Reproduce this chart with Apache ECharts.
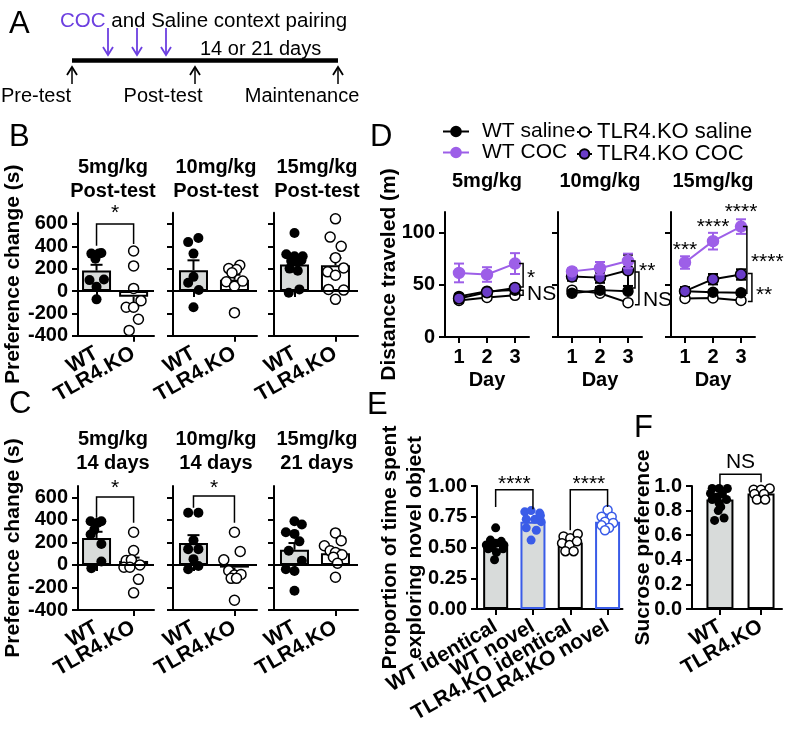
<!DOCTYPE html>
<html><head><meta charset="utf-8">
<script src="https://cdn.jsdelivr.net/npm/echarts@6/dist/echarts.min.js"></script>
<style>html,body{margin:0;padding:0;background:#fff}#c{width:796px;height:731px}</style>
</head><body><div id="c"></div>
<script>
// ================= DATA =================
const genotypes = ['WT', 'TLR4.KO'];
const prefTicks = [-400, -200, 0, 200, 400, 600];

// Panel B: preference change (s) at Post-test
const bTitles = ['5mg/kg\nPost-test', '10mg/kg\nPost-test', '15mg/kg\nPost-test'];
const bMeans = [[183, -50], [187, 101], [237, 231]];
const bSem = [[52, 80], [88, 45], [50, 65]];
// individual animals: [jitter (category units), value]
const bWTDots = [
  [[-0.14,335],[-0.03,290],[0.06,335],[0.13,340],[-0.19,98],[0.2,104],[0,38],[0,-74]],
  [[-0.13,438],[0.12,474],[0,335],[0,127],[-0.13,74],[0.13,9],[0,-145]],
  [[0,519],[-0.2,329],[0,311],[0.2,311],[-0.08,270],[0.08,261],[-0.12,201],[0.08,181],[-0.14,-15],[0.12,15],[0.17,276]]
];
const bKODots = [
  [[0,358],[0,225],[0,24],[0.2,-86],[-0.2,-145],[0,-145],[0.13,-252],[-0.12,-352]],
  [[-0.14,201],[0.13,231],[0.05,193],[-0.06,163],[-0.2,83],[0,44],[0.2,89],[0,-193]],
  [[0,646],[-0.13,483],[0.14,400],[0,299],[0.2,207],[-0.19,172],[0,142],[-0.17,15],[0.2,9],[0,-74]]
];
const bSig = [[{x1:0,x2:1,top:600,l:405,r:420,text:'*',ty:743}], [], []];

// Panel C: preference change (s) at 14 / 21 days
const cTitles = ['5mg/kg\n14 days', '10mg/kg\n14 days', '15mg/kg\n21 days'];
const cMeans = [[239, 35], [194, -24], [134, 104]];
const cSem = [[55, 30], [70, 60], [60, 30]];
const cWTDots = [
  [[-0.16,388],[0.03,373],[0.13,388],[-0.06,313],[-0.16,269],[0.13,185],[0.13,30],[-0.14,-30]],
  [[-0.13,463],[0.12,463],[0,218],[-0.13,140],[0.12,140],[0,51],[-0.13,-39],[0.12,-9]],
  [[0,388],[0.18,358],[-0.21,290],[0,275],[0.12,209],[-0.14,125],[0.18,36],[-0.21,-39],[0,-54],[0,-230]]
];
const cKODots = [
  [[0,290],[0,128],[-0.2,39],[-0.06,45],[-0.26,-21],[-0.1,-21],[0.17,0],[0.13,-128],[0,-248]],
  [[0,290],[0.14,119],[-0.26,45],[-0.14,-51],[0,-90],[0.16,-84],[-0.08,-119],[0.05,-119],[0,-313]],
  [[0,284],[0.14,215],[-0.27,170],[-0.13,125],[0,110],[0.16,90],[-0.05,69],[0.05,15],[0,-110]]
];
const cSig = [[{x1:0,x2:1,top:603,l:418,r:373,text:'*',ty:727}], [{x1:0,x2:1,top:612,l:507,r:373,text:'*',ty:727}], []];

// Panel D: distance traveled (m) over days
const days = [1, 2, 3];
const dTitles = ['5mg/kg', '10mg/kg', '15mg/kg'];
const dTicks = [0, 50, 100];
const dWTsal  = [[39,44,45],[42,45,44],[44,43,42.5]];
const dWTsalE = [[2,2,3],[2,3,2],[4,2,2]];
const dKOsal  = [[35,38,40],[45,42,33],[37,37.5,35]];
const dKOsalE = [[2,2,2],[2,2,2],[2,2,2]];
const dWTcoc  = [[61.5,60,70.5],[63,66,73],[71.5,92,106]];
const dWTcocE = [[9,7,10],[3,6,7],[6,8,7]];
const dKOcoc  = [[37,43,47],[58,57,64],[44,55.5,60]];
const dKOcocE = [[2,2,3],[4,5,15],[3,5,5]];
const dBrackets = [
  [{x:3.29,top:70.5,bot:48,text:'*',ty:61},{x:3.29,top:45,bot:40,text:'NS',ty:41}],
  [{x:3.25,top:73,bot:47,text:'**',ty:68},{x:3.39,top:62.5,bot:31,text:'NS',ty:35}],
  [{x:3.21,top:106,bot:42,text:'****',ty:77},{x:3.39,top:61,bot:34,text:'**',ty:45}]
];
const dStars = [[], [], [{x:1,y:88,text:'***'},{x:2,y:110,text:'****'},{x:3,y:125,text:'****'}]];

// Panel E: novel object recognition
const eCats = ['WT identical', 'WT novel', 'TLR4.KO identical', 'TLR4.KO novel'];
const eTicks = [0, 0.25, 0.5, 0.75, 1];
const eMeans = [0.52, 0.71, 0.54, 0.71];
const eSem = [0.02, 0.02, 0.015, 0.02];
const eDots = [
  [[0,0.66],[-0.14,0.56],[0.15,0.55],[-0.25,0.52],[0,0.535],[0.2,0.49],[-0.2,0.49],[0.02,0.46],[-0.03,0.40],[0.22,0.52],[-0.1,0.5]],
  [[-0.22,0.79],[-0.05,0.8],[0.18,0.78],[-0.18,0.73],[0.05,0.73],[0.22,0.71],[-0.18,0.66],[0.09,0.64],[-0.05,0.56],[0.2,0.76]],
  [[-0.18,0.59],[0,0.575],[0.2,0.61],[-0.22,0.535],[-0.02,0.52],[0.18,0.55],[-0.13,0.47],[0.09,0.47]],
  [[0,0.805],[-0.16,0.75],[0.11,0.75],[-0.07,0.71],[0.15,0.70],[-0.16,0.68],[0.04,0.66],[-0.07,0.64]]
];
const eSig = [{x1:0,x2:1,top:0.97,l:0.83,r:0.81,text:'****',ty:1.055},{x1:2,x2:3,top:0.97,l:0.64,r:0.83,text:'****',ty:1.055}];

// Panel F: sucrose preference
const fTicks = [0, 0.2, 0.4, 0.6, 0.8, 1.0];
const fMeans = [0.89, 0.94];
const fSem = [0.02, 0.01];
const fDots = [
  [[-0.19,0.98],[-0.02,0.98],[0.18,0.98],[-0.23,0.94],[0.06,0.935],[-0.07,0.91],[-0.19,0.89],[0.16,0.89],[-0.02,0.86],[0.02,0.83],[-0.04,0.80],[-0.13,0.72],[0.1,0.74]],
  [[-0.18,0.97],[0,0.97],[0.21,0.98],[-0.16,0.935],[0.07,0.935],[-0.1,0.89],[0.1,0.89]]
];
const fSig = [{x1:0,x2:1,top:1.095,l:0.995,r:1.03,text:'NS',ty:1.19}];

// ================= STYLE / LAYOUT =================
const FONT = '"Liberation Sans", Arial, Helvetica, sans-serif';
const BLACK = '#000';
const GRAY = '#d8dbda';
const PURPLE = '#9d5fe8';
const KOCOC = '#6a3cc8';
const BLUE = '#3a5ce8';
const ARROW = '#6c3fe0';

const grids = [], xAxes = [], yAxes = [], series = [], titles = [];

function lineAxis() { return {show: true, onZero: false, lineStyle: {color: BLACK, width: 2}}; }
function tickAxis(vals) { return {show: true, length: 6, customValues: vals, lineStyle: {color: BLACK, width: 2}}; }

function makeY(gi, min, max, ticks, showLabels, name, nameGap, fmt) {
  return {
    type: 'value', gridIndex: gi, min: min, max: max,
    axisLine: lineAxis(), axisTick: tickAxis(ticks),
    axisLabel: {show: showLabels, customValues: ticks, margin: 10, color: BLACK, fontFamily: FONT,
      fontWeight: 'bold', fontSize: 20, showMinLabel: true, showMaxLabel: true, hideOverlap: false,
      formatter: fmt || (v => String(v))},
    splitLine: {show: false},
    name: name || '', nameLocation: 'middle', nameGap: nameGap || 40, nameMoveOverlap: false,
    nameTextStyle: {color: BLACK, fontFamily: FONT, fontWeight: 'bold', fontSize: 21, lineHeight: 25}
  };
}

function errOne(params, api) {
  const x = api.value(0), m = api.value(1), s = api.value(2), dir = api.value(3);
  const p0 = api.coord([x, m]), p1 = api.coord([x, m + dir * s]);
  const c = api.visual('color');
  return {type: 'group', children: [
    {type: 'line', shape: {x1: p0[0], y1: p0[1], x2: p1[0], y2: p1[1]}, style: {stroke: c, lineWidth: 2}},
    {type: 'line', shape: {x1: p1[0] - 6, y1: p1[1], x2: p1[0] + 6, y2: p1[1]}, style: {stroke: c, lineWidth: 2}}
  ]};
}
function errBoth(params, api) {
  const x = api.value(0), m = api.value(1), s = api.value(2);
  const a = api.coord([x, m - s]), b = api.coord([x, m + s]);
  const c = api.visual('color');
  return {type: 'group', children: [
    {type: 'line', shape: {x1: a[0], y1: a[1], x2: b[0], y2: b[1]}, style: {stroke: c, lineWidth: 2}},
    {type: 'line', shape: {x1: a[0] - 5, y1: a[1], x2: a[0] + 5, y2: a[1]}, style: {stroke: c, lineWidth: 2}},
    {type: 'line', shape: {x1: b[0] - 5, y1: b[1], x2: b[0] + 5, y2: b[1]}, style: {stroke: c, lineWidth: 2}}
  ]};
}
function starShift(t) { return t.indexOf('*') >= 0 ? 5 : 0; }

function sigSeries(xi, yi, list) {
  return {type: 'custom', xAxisIndex: xi, yAxisIndex: yi, z: 6, silent: true,
    data: list.map(s => [s.x1, s.x2, s.top, s.l, s.r, s.ty]),
    renderItem: (p, api) => {
      const s = list[p.dataIndex];
      const a = api.coord([s.x1, s.l]), b = api.coord([s.x1, s.top]), c = api.coord([s.x2, s.top]), d = api.coord([s.x2, s.r]);
      const t = api.coord([(s.x1 + s.x2) / 2, s.ty]);
      return {type: 'group', children: [
        {type: 'polyline', shape: {points: [a, b, c, d]}, style: {stroke: BLACK, lineWidth: 1.5, fill: 'none'}},
        {type: 'text', style: {text: s.text, x: t[0], y: t[1] + starShift(s.text), align: 'center', verticalAlign: 'middle',
          fontSize: 21, fontFamily: FONT, fill: BLACK}}
      ]};
    }};
}

function barPanel(o) {
  grids.push({left: o.left, top: o.top, width: o.width, height: o.height});
  const gi = grids.length - 1;
  // main x axis: the line only
  xAxes.push({type: 'value', gridIndex: gi, min: o.xMin, max: o.xMax, position: 'bottom',
    axisLine: lineAxis(), axisTick: {show: false}, axisLabel: {show: false}, splitLine: {show: false}});
  const xi = xAxes.length - 1;
  // one labelled tick axis per group so that every rotated label is kept
  o.cats.forEach((c, i) => {
    xAxes.push({type: 'value', gridIndex: gi, min: o.xMin, max: o.xMax, position: 'bottom',
      axisLine: {show: false}, axisTick: tickAxis([i]),
      axisLabel: {show: true, customValues: [i], rotate: 30, margin: 16, color: BLACK, fontFamily: FONT,
        fontWeight: 'bold', fontSize: 21, showMinLabel: true, showMaxLabel: true, formatter: () => c},
      splitLine: {show: false}});
  });
  yAxes.push(makeY(gi, o.yMin, o.yMax, o.yTicks, o.showY, o.yName, o.yNameGap, o.fmt));
  const yi = yAxes.length - 1;
  const bar = {type: 'bar', xAxisIndex: xi, yAxisIndex: yi, barWidth: o.barWidth, z: 2, silent: true,
    data: o.means.map((m, i) => ({value: [i, m], itemStyle: Object.assign({borderWidth: 2}, o.barStyles[i])}))};
  if (o.zeroLine) {
    bar.markLine = {silent: true, symbol: ['none', 'none'], label: {show: false},
      lineStyle: {color: BLACK, width: 2, type: 'solid'}, data: [{yAxis: 0}], animation: false};
  }
  series.push(bar);
  series.push({type: 'custom', xAxisIndex: xi, yAxisIndex: yi, z: 3, silent: true, renderItem: errOne,
    data: o.means.map((m, i) => ({value: [i, m, o.sems[i], m >= 0 ? 1 : -1], itemStyle: {color: o.errColors[i]}}))});
  o.dots.forEach((arr, i) => {
    series.push({type: 'scatter', xAxisIndex: xi, yAxisIndex: yi, z: 4, silent: true, symbolSize: o.dotSize,
      itemStyle: Object.assign({opacity: 1}, o.dotStyles[i]), data: arr.map(d => [i + d[0], d[1]])});
  });
  if (o.sig && o.sig.length) series.push(sigSeries(xi, yi, o.sig));
}

const wtBar = {color: GRAY, borderColor: BLACK};
const koBar = {color: '#fff', borderColor: BLACK};
const wtDot = {color: BLACK};
const koDot = {color: '#fff', borderColor: BLACK, borderWidth: 1.5};

const bcLefts = [70, 173, 274];
function prefPanels(tit, means, sems, wt, ko, sig, top, height, titleTop) {
  for (let k = 0; k < 3; k++) {
    barPanel({left: bcLefts[k], top: top, width: 84, height: height, xMin: -0.5, xMax: 1.55,
      yMin: -400, yMax: 700, yTicks: prefTicks, showY: k === 0, yName: k === 0 ? 'Preference change (s)' : '', yNameGap: 52,
      cats: genotypes, means: means[k], sems: sems[k], dots: [wt[k], ko[k]], barStyles: [wtBar, koBar],
      dotStyles: [wtDot, koDot], errColors: [BLACK, BLACK], barWidth: 29, dotSize: 10, zeroLine: true, sig: sig[k]});
    titles.push({text: tit[k], left: bcLefts[k] + 43, top: titleTop, textAlign: 'center', padding: 0,
      textStyle: {fontSize: 20, fontWeight: 'bold', fontFamily: FONT, color: BLACK, lineHeight: 24}});
  }
}
prefPanels(bTitles, bMeans, bSem, bWTDots, bKODots, bSig, 212.8, 123, 155);
prefPanels(cTitles, cMeans, cSem, cWTDots, cKODots, cSig, 486, 124, 427);

// Panel D
const dLefts = [445, 558, 671];
for (let k = 0; k < 3; k++) {
  grids.push({left: dLefts[k], top: 212, width: 84, height: 125});
  const gi = grids.length - 1;
  xAxes.push({type: 'value', gridIndex: gi, min: 0.5, max: 3.5, axisLine: lineAxis(), axisTick: tickAxis(days),
    axisLabel: {show: true, customValues: days, margin: 10, color: BLACK, fontFamily: FONT, fontWeight: 'bold', fontSize: 20,
      showMinLabel: true, showMaxLabel: true},
    splitLine: {show: false}, name: 'Day', nameLocation: 'middle', nameGap: 33,
    nameTextStyle: {color: BLACK, fontFamily: FONT, fontWeight: 'bold', fontSize: 20}});
  const xi = xAxes.length - 1;
  yAxes.push(makeY(gi, 0, 120, dTicks, k === 0, k === 0 ? 'Distance traveled (m)' : '', 43));
  const yi = yAxes.length - 1;
  const groups = [
    {name: 'TLR4.KO saline', v: dKOsal[k], e: dKOsalE[k], line: BLACK, fill: '#fff', size: 10},
    {name: 'WT saline', v: dWTsal[k], e: dWTsalE[k], line: BLACK, fill: BLACK, size: 10},
    {name: 'TLR4.KO COC', v: dKOcoc[k], e: dKOcocE[k], line: BLACK, fill: KOCOC, size: 11},
    {name: 'WT COC', v: dWTcoc[k], e: dWTcocE[k], line: PURPLE, fill: PURPLE, size: 11}
  ];
  groups.forEach((g, gi2) => {
    series.push({type: 'custom', xAxisIndex: xi, yAxisIndex: yi, z: 3 + gi2 * 2, silent: true, renderItem: errBoth,
      itemStyle: {color: g.line}, data: days.map((d, i) => [d, g.v[i], g.e[i]])});
    series.push({type: 'line', name: g.name, xAxisIndex: xi, yAxisIndex: yi, z: 4 + gi2 * 2, silent: true,
      data: days.map((d, i) => [d, g.v[i]]), symbol: 'circle', symbolSize: g.size, showSymbol: true,
      lineStyle: {color: g.line, width: 2}, itemStyle: {color: g.fill, borderColor: g.line, borderWidth: 1.5}});
  });
  const br = dBrackets[k];
  series.push({type: 'custom', xAxisIndex: xi, yAxisIndex: yi, z: 20, silent: true,
    data: br.map(s => [s.x, s.top, s.bot, s.ty]),
    renderItem: (p, api) => {
      const s = br[p.dataIndex];
      const a = api.coord([s.x, s.top]), b = api.coord([s.x, s.bot]), t = api.coord([s.x, s.ty]);
      return {type: 'group', children: [
        {type: 'polyline', shape: {points: [[a[0] - 4, a[1]], a, b, [b[0] - 4, b[1]]]}, style: {stroke: BLACK, lineWidth: 1.5, fill: 'none'}},
        {type: 'text', style: {text: s.text, x: t[0] + 4, y: t[1] + starShift(s.text), align: 'left', verticalAlign: 'middle',
          fontSize: 21, fontFamily: FONT, fill: BLACK}}
      ]};
    }});
  const st = dStars[k];
  if (st.length) {
    series.push({type: 'custom', xAxisIndex: xi, yAxisIndex: yi, z: 20, silent: true,
      data: st.map(s => [s.x, s.y]),
      renderItem: (p, api) => {
        const s = st[p.dataIndex];
        const t = api.coord([s.x, s.y]);
        return {type: 'text', style: {text: s.text, x: t[0], y: t[1] + 5, align: 'center', verticalAlign: 'middle',
          fontSize: 21, fontFamily: FONT, fill: BLACK}};
      }});
  }
  titles.push({text: dTitles[k], left: dLefts[k] + 42, top: 171, textAlign: 'center', padding: 0,
    textStyle: {fontSize: 20, fontWeight: 'bold', fontFamily: FONT, color: BLACK}});
}

// Panel E
barPanel({left: 477, top: 486, width: 145.5, height: 123, xMin: -0.5, xMax: 3.4,
  yMin: 0, yMax: 1, yTicks: eTicks, showY: true, yName: 'Proportion of time spent\nexploring novel object', yNameGap: 49,
  fmt: v => v.toFixed(2),
  cats: eCats, means: eMeans, sems: eSem, dots: eDots,
  barStyles: [{color: GRAY, borderColor: BLACK}, {color: GRAY, borderColor: BLUE}, {color: '#fff', borderColor: BLACK}, {color: '#fff', borderColor: BLUE}],
  dotStyles: [{color: BLACK}, {color: BLUE}, {color: '#fff', borderColor: BLACK, borderWidth: 1.5}, {color: '#fff', borderColor: BLUE, borderWidth: 1.5}],
  errColors: [BLACK, BLUE, BLACK, BLUE], barWidth: 25, dotSize: 9, zeroLine: false, sig: eSig});

// Panel F
barPanel({left: 692, top: 486, width: 90, height: 123, xMin: -0.68, xMax: 1.51,
  yMin: 0, yMax: 1, yTicks: fTicks, showY: true, yName: 'Sucrose preference', yNameGap: 36,
  fmt: v => v.toFixed(1),
  cats: genotypes, means: fMeans, sems: fSem, dots: fDots, barStyles: [wtBar, koBar], dotStyles: [wtDot, koDot],
  errColors: [BLACK, BLACK], barWidth: 27, dotSize: 9, zeroLine: false, sig: fSig});

// Panel letters
[['A', 9, 9], ['B', 9, 122], ['C', 9, 389], ['D', 370, 122], ['E', 367, 390], ['F', 634, 413]].forEach(L => {
  titles.push({text: L[0], left: L[1], top: L[2], padding: 0,
    textStyle: {fontSize: 31, fontWeight: 'normal', fontFamily: FONT, color: BLACK}});
});

// Panel A schematic (timeline drawing)
const txt = (s, x, y, align, extra) => ({type: 'text', x: x, y: y, silent: true,
  style: Object.assign({text: s, fontSize: 20, fontFamily: FONT, fill: BLACK, align: align, verticalAlign: 'middle'}, extra || {})});
const seg = (x1, y1, x2, y2, c, w) => ({type: 'line', silent: true, shape: {x1: x1, y1: y1, x2: x2, y2: y2}, style: {stroke: c, lineWidth: w}});
const head = (x, y, dir, c) => ({type: 'polyline', silent: true, shape: {points: [[x - 5, y - dir * 8], [x, y], [x + 5, y - dir * 8]]}, style: {stroke: c, lineWidth: 1.8, fill: 'none'}});
const graphicEls = [
  txt('{p|COC} and Saline context pairing', 60, 21, 'left', {fontSize: 20.5, rich: {p: {fill: ARROW, fontSize: 20.5, fontFamily: FONT}}}),
  txt('14 or 21 days', 200, 49, 'left'),
  seg(72, 60.5, 338, 60.5, BLACK, 4.5),
  txt('Pre-test', 36, 96, 'center'),
  txt('Post-test', 163, 96, 'center'),
  txt('Maintenance', 302, 96, 'center')
];
[108, 137, 166].forEach(x => { graphicEls.push(seg(x, 28, x, 55, ARROW, 1.8)); graphicEls.push(head(x, 55, 1, ARROW)); });
[72, 195, 338].forEach(x => { graphicEls.push(seg(x, 84, x, 67, BLACK, 1.5)); graphicEls.push(head(x, 67, -1, BLACK)); });

const chart = echarts.init(document.getElementById('c'), null, {renderer: 'canvas'});
chart.setOption({
  animation: false,
  backgroundColor: '#fff',
  title: titles,
  legend: [
    {left: 442, top: 121, orient: 'vertical', itemGap: 0, itemWidth: 26, itemHeight: 12, padding: 0, selectedMode: false,
      data: ['WT saline', 'WT COC'], textStyle: {fontSize: 21, fontFamily: FONT, color: BLACK, padding: [0, 0, 0, 8]}},
    {left: 576, top: 121, orient: 'vertical', itemGap: 0, itemWidth: 15, itemHeight: 12, padding: 0, selectedMode: false,
      data: ['TLR4.KO saline', 'TLR4.KO COC'], textStyle: {fontSize: 22, fontFamily: FONT, color: BLACK}}
  ],
  grid: grids,
  xAxis: xAxes,
  yAxis: yAxes,
  series: series,
  graphic: {elements: graphicEls}
});
</script></body></html>
